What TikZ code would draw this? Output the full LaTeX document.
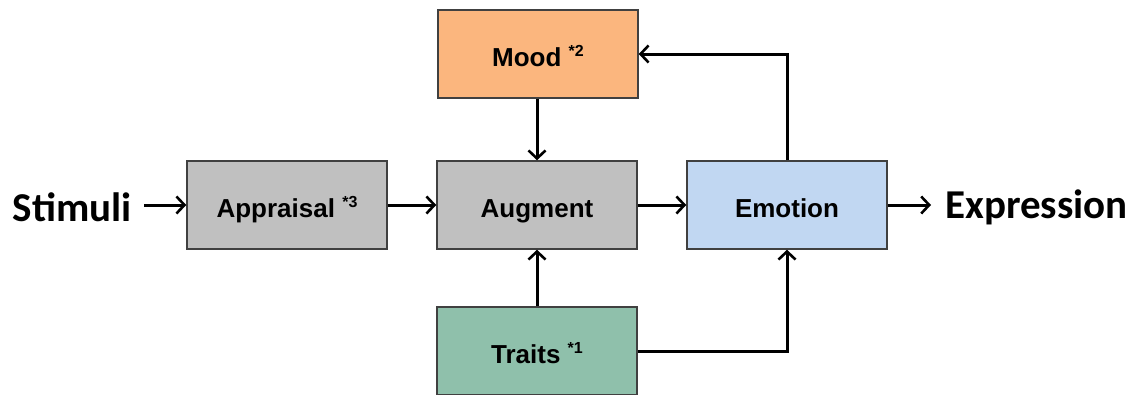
\documentclass[tikz,border=0pt]{standalone}
\usepackage{fontspec}
\usetikzlibrary{arrows.meta}
\newfontfamily\arialfont{Liberation Sans}
\newfontfamily\califont{Carlito}
\definecolor{moodfill}{RGB}{251,182,126}
\definecolor{grayfill}{RGB}{192,192,192}
\definecolor{emofill}{RGB}{193,215,242}
\definecolor{traitfill}{RGB}{143,192,171}
\definecolor{edgegray}{RGB}{64,64,64}
\newcommand{\starsup}[1]{\raisebox{10pt}{\fontsize{16}{17}\selectfont *#1}}
\tikzset{
  blockbox/.style={draw=edgegray, line width=1.5pt, minimum width=200pt, minimum height=88pt,
    inner sep=0pt, text height=24pt, text depth=0pt, font=\arialfont\bfseries\fontsize{26}{28}\selectfont},
  flow/.style={line width=3pt, -{Straight Barb[length=8pt,width=17pt,line width=2.6pt]}},
  endtext/.style={inner sep=0pt, font=\califont\bfseries\fontsize{41}{44}\selectfont}
}
\begin{document}
\begin{tikzpicture}[x=1pt,y=-1pt]
\useasboundingbox (0,0) rectangle (1133,394);
\clip (0,0) rectangle (1133,394);
\node[blockbox, fill=moodfill] (mood) at (538,54) {Mood \starsup{2}};
\node[blockbox, fill=grayfill] (appr) at (287,205) {Appraisal \starsup{3}};
\node[blockbox, fill=grayfill] (aug) at (537,205) {Augment};
\node[blockbox, fill=emofill] (emo) at (787,205) {Emotion};
\node[blockbox, fill=traitfill] (traits) at (537,351) {Traits \starsup{1}};
\node[endtext, anchor=east] (stim) at (132,207) {Stimuli};
\node[endtext, anchor=west] (expr) at (945,207) {Expression};
\draw[flow, shorten <=12pt] (stim.east |- appr.west) -- (appr.west);
\draw[flow] (appr) -- (aug);
\draw[flow] (aug) -- (emo);
\draw[flow, shorten >=14pt] (emo.east) -- (emo.east -| expr.west);
\draw[flow] (mood.south -| aug.north) -- (aug.north);
\draw[flow] (traits.north) -- (aug.south);
\draw[flow] (emo.north) -- (emo.north |- mood.east) -- (mood.east);
\draw[flow] (traits.east) -| (emo.south);
\end{tikzpicture}
\end{document}
